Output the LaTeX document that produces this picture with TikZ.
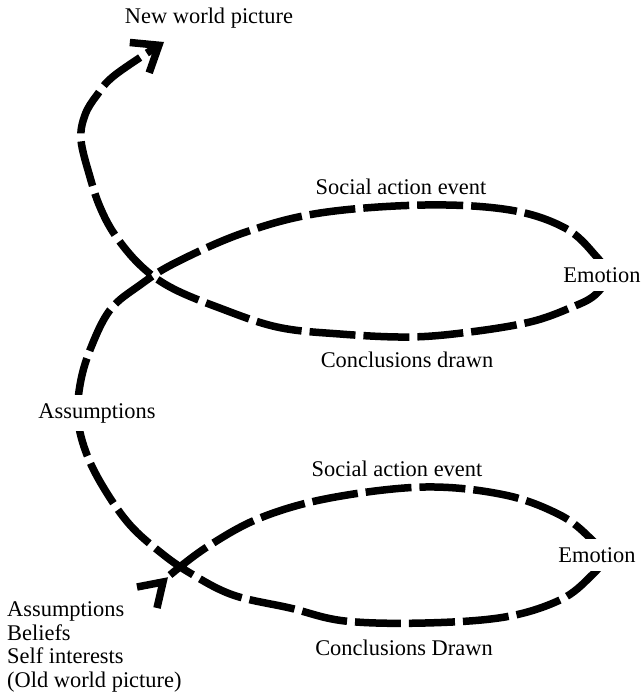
\documentclass[tikz,border=0pt]{standalone}
\usepackage{fontspec}
\setmainfont{Liberation Serif}
\usetikzlibrary{arrows.meta}

\begin{document}
\begin{tikzpicture}
  [x=1bp, y=-1bp,
   spiral/.style={line width=7.5bp, dash pattern=on 46bp off 8bp},
   lbl/.style={font=\fontsize{22.5}{23.5}\selectfont, inner sep=2bp},
   gap/.style={lbl, fill=white, inner xsep=3bp, inner ysep=8bp}]
  \useasboundingbox (0,0) rectangle (642,695);
  \coordinate (start) at (170,575);
  \coordinate (end) at (164,42);
  % the spiral, from the old world picture up to the new one
  \draw[spiral, -{Straight Barb[length=23bp, width=36bp]}]
    plot[smooth, tension=0.6] coordinates {
      (start) (207,547) (260,518) (330,498) (425,487) (505,495) (560,515)
      (590,538) (604,557) (590,577) (560,600) (505,617) (425,623)
      (345,621) (290,608) (233,595) (190,573) (160,552) (130,525)
      (105,490) (87,455) (78,420) (80,385) (90,350) (110,310) (140,285)
      (175,263) (243,233) (320,213) (425,205) (510,210) (565,228)
      (595,255) (607,275) (595,295) (570,308) (530,322) (470,332)
      (410,337) (340,334) (277,327) (217,307) (170,287) (140,265)
      (115,235) (100,207) (90,177) (81,140) (85,115) (97,95) (115,75)
      (end)};
  \draw[line width=7.5bp] (137,587) -- (163,582) -- (157,608);
  \node[lbl] (newworld) at (209,18) {New world picture};
  \node[lbl] (event2) at (401,187) {Social action event};
  \node[gap] (emotion2) at (602,275) {Emotion};
  \node[lbl] (concl2) at (407,360) {Conclusions drawn};
  \node[gap] (assume) at (97,413) {Assumptions};
  \node[lbl] (event1) at (397,469) {Social action event};
  \node[gap] (emotion1) at (597,555) {Emotion};
  \node[lbl] (concl1) at (404,648) {Conclusions Drawn};
  \node[lbl, anchor=west, align=left] (oldworld) at (5,647)
    {Assumptions\\Beliefs\\Self interests\\(Old world picture)};
\end{tikzpicture}
\end{document}
